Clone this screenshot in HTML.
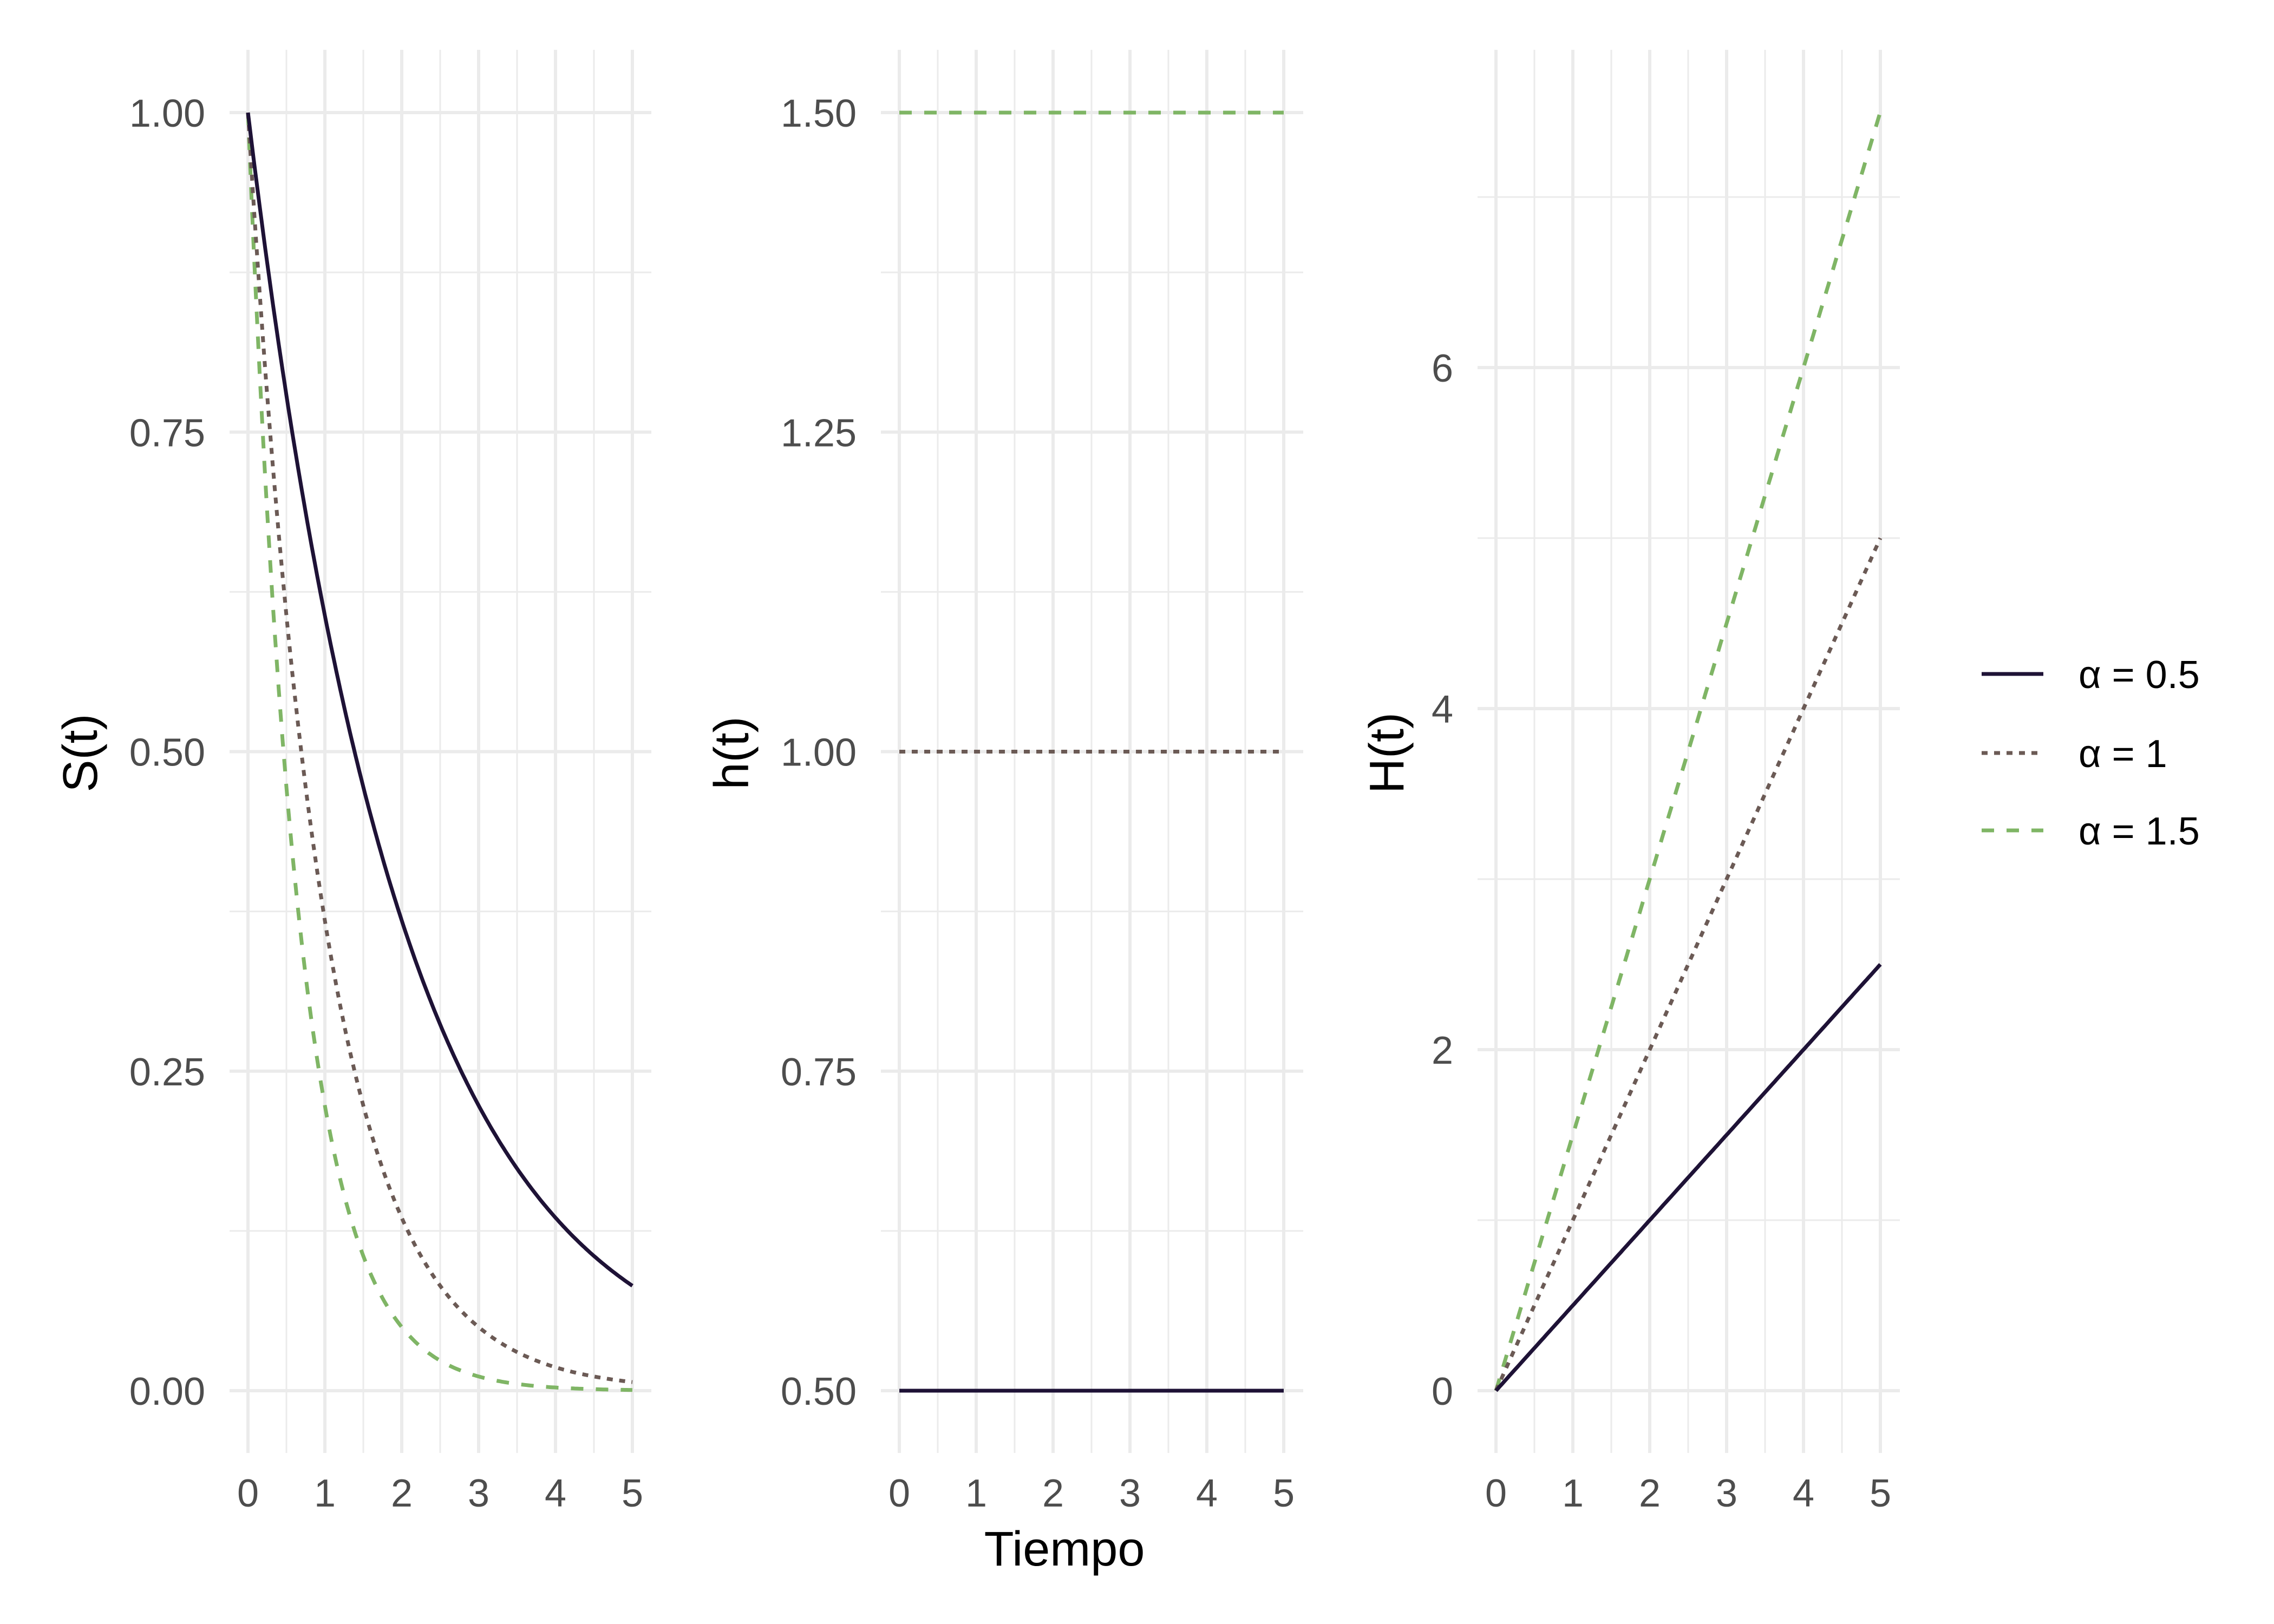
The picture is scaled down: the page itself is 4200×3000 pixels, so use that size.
<!DOCTYPE html>
<html><head><meta charset="utf-8"><style>
html,body{margin:0;padding:0;background:#fff;}
svg{display:block;}
text{font-family:"Liberation Sans",sans-serif;}
</style></head><body>
<svg id="s" width="4200" height="3000" viewBox="0 0 4200 3000" xmlns="http://www.w3.org/2000/svg">
<g id="g"></g>
<text x="147" y="1391" font-size="90" fill="#000" text-anchor="middle" transform="rotate(-90 147 1391)" dy="32">S(t)</text>
<text x="1350" y="1391" font-size="90" fill="#000" text-anchor="middle" transform="rotate(-90 1350 1391)" dy="32">h(t)</text>
<text x="2560" y="1391" font-size="90" fill="#000" text-anchor="middle" transform="rotate(-90 2560 1391)" dy="32">H(t)</text>
<text x="1966" y="2892" font-size="90" fill="#000" text-anchor="middle">Tiempo</text>
<line x1="3660" y1="1245" x2="3774" y2="1245" stroke="#1e1236" stroke-width="7"/>
<line x1="3660" y1="1391" x2="3774" y2="1391" stroke="#6b5a55" stroke-width="7" stroke-dasharray="11 12"/>
<line x1="3660" y1="1534" x2="3774" y2="1534" stroke="#7fb565" stroke-width="7" stroke-dasharray="23 23"/>
<text x="3839" y="1271" font-size="72" fill="#000">α = 0.5</text>
<text x="3839" y="1417" font-size="72" fill="#000">α = 1</text>
<text x="3839" y="1560" font-size="72" fill="#000">α = 1.5</text>
</svg>
<script>
var g=document.getElementById('g'),NS="http://www.w3.org/2000/svg";
function el(t,a,txt){var e=document.createElementNS(NS,t);for(var k in a)e.setAttribute(k,a[k]);if(txt!=null)e.textContent=txt;g.appendChild(e);return e;}
var panels=[
 {x0:458,xl:424,xr:1203,ymin:0,ymax:1,ylo:2569,yhi:208,maj:[0,0.25,0.5,0.75,1],min:[0.125,0.375,0.625,0.875],lab:["0.00","0.25","0.50","0.75","1.00"],lx:379,f:function(a,t){return Math.exp(-a*t);}},
 {x0:1661,xl:1627,xr:2407,ymin:0.5,ymax:1.5,ylo:2569,yhi:208,maj:[0.5,0.75,1,1.25,1.5],min:[0.625,0.875,1.125,1.375],lab:["0.50","0.75","1.00","1.25","1.50"],lx:1582,f:function(a,t){return a;}},
 {x0:2763,xl:2729,xr:3509,ymin:0,ymax:6,ylo:2569,yhi:679,maj:[0,2,4,6],min:[1,3,5,7],lab:["0","2","4","6"],lx:2684,f:function(a,t){return a*t;}}
];
var cols=["#1e1236","#6b5a55","#7fb565"],dash=["none","11 12","23 23"],al=[0.5,1,1.5];
panels.forEach(function(p){
 var sx=142,sy=(p.ylo-p.yhi)/(p.ymax-p.ymin);
 function Y(v){return p.ylo-(v-p.ymin)*sy;}
 p.min.forEach(function(v){el('line',{x1:p.xl,x2:p.xr,y1:Y(v),y2:Y(v),stroke:'#ebebeb','stroke-width':3});});
 for(var i=0;i<5;i++){var x=p.x0+(i+0.5)*sx;el('line',{x1:x,x2:x,y1:92,y2:2684,stroke:'#ebebeb','stroke-width':3});}
 p.maj.forEach(function(v,i){el('line',{x1:p.xl,x2:p.xr,y1:Y(v),y2:Y(v),stroke:'#ebebeb','stroke-width':6});
  el('text',{x:p.lx,y:Y(v)+26,'font-size':72,fill:'#4d4d4d','text-anchor':'end'},p.lab[i]);});
 for(var i=0;i<=5;i++){var x=p.x0+i*sx;el('line',{x1:x,x2:x,y1:92,y2:2684,stroke:'#ebebeb','stroke-width':6});
  el('text',{x:x,y:2783,'font-size':72,fill:'#4d4d4d','text-anchor':'middle'},String(i));}
 for(var k=2;k>=0;k--){var d="";for(var j=0;j<=200;j++){var t=j*5/200;d+=(j?"L":"M")+(p.x0+t*sx).toFixed(1)+","+Y(p.f(al[k],t)).toFixed(1);}
  el('path',{d:d,fill:'none',stroke:cols[k],'stroke-width':7,'stroke-dasharray':dash[k]});}
});
</script>
</body></html>
